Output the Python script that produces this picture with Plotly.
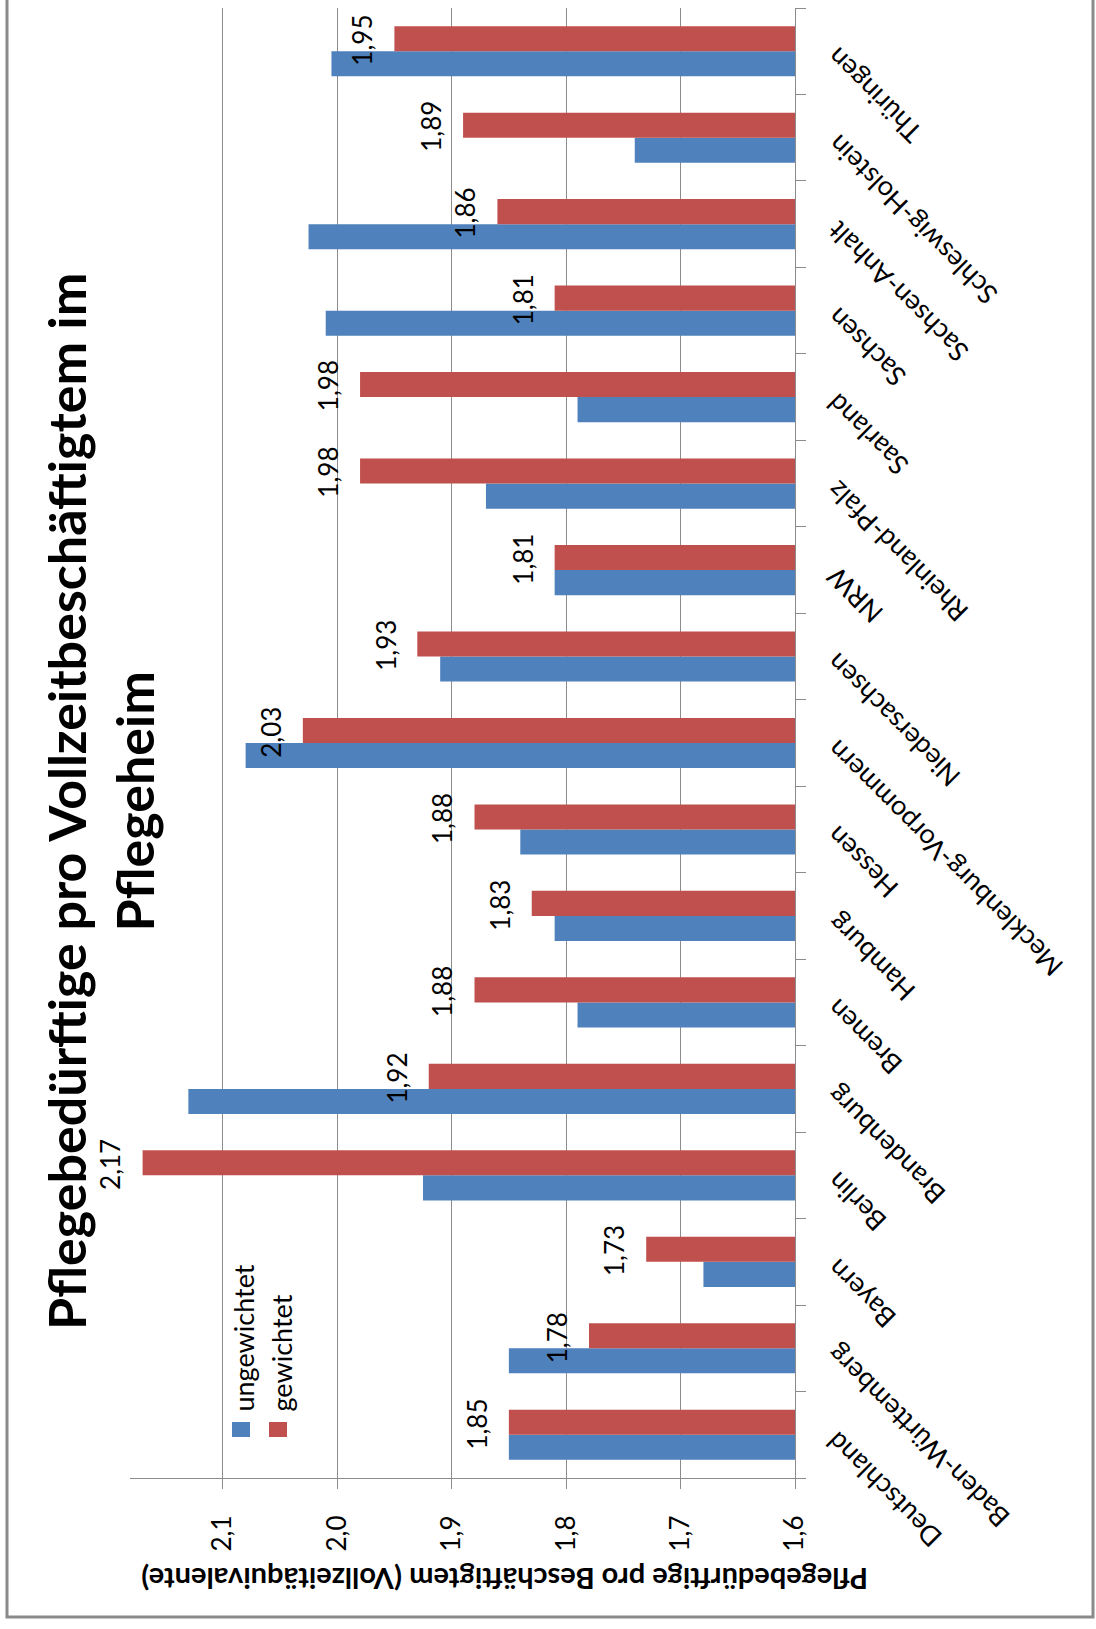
import plotly.graph_objects as go

categories = ["Deutschland", "Baden-Württemberg", "Bayern", "Berlin", "Brandenburg", "Bremen",
              "Hamburg", "Hessen", "Mecklenburg-Vorpommern", "Niedersachsen", "NRW",
              "Rheinland-Pfalz", "Saarland", "Sachsen", "Sachsen-Anhalt", "Schleswig-Holstein",
              "Thüringen"]
ungewichtet = [1.85, 1.85, 1.68, 1.925, 2.13, 1.79, 1.81, 1.84, 2.08, 1.91, 1.81, 1.87, 1.79,
               2.01, 2.025, 1.74, 2.005]
gewichtet = [1.85, 1.78, 1.73, 2.17, 1.92, 1.88, 1.83, 1.88, 2.03, 1.93, 1.81, 1.98, 1.98,
             1.81, 1.86, 1.89, 1.95]
gew_labels = ["1,85", "1,78", "1,73", "2,17", "1,92", "1,88", "1,83", "1,88", "2,03", "1,93",
              "1,81", "1,98", "1,98", "1,81", "1,86", "1,89", "1,95"]
x_ticks = [1.6, 1.7, 1.8, 1.9, 2.0, 2.1]
x_ticktext = ["1,6", "1,7", "1,8", "1,9", "2,0", "2,1"]

title_text = "Pflegebedürftige pro Vollzeitbeschäftigtem im<br>Pflegeheim"
axis_title = "Pflegebedürftige pro Beschäftigtem (Vollzeitäquivalente)"

W, H = 1096, 1629
L, R, T, B = 130, 795, 8, 1478
FONT = "Lato"
BLUE = "#4F81BD"
RED = "#C0504D"
GRID = "#8C8C8C"


def px(x):
    return (x - L) / (R - L)


def py(y):
    return (B - y) / (B - T)


fig = go.Figure()
fig.add_trace(go.Bar(y=categories, x=ungewichtet, orientation="h", name="ungewichtet",
                     marker=dict(color=BLUE, line=dict(width=0)), base=0))
fig.add_trace(go.Bar(y=categories, x=gewichtet, orientation="h", name="gewichtet",
                     marker=dict(color=RED, line=dict(width=0)), base=0))

annotations = []
for c, v, t in zip(categories, gewichtet, gew_labels):
    annotations.append(dict(x=v, y=c, xref="x", yref="y", text=t, showarrow=False,
                            textangle=-90, xanchor="right", yanchor="middle",
                            xshift=-14, yshift=11, font=dict(family=FONT, size=26, color="black")))

# category labels (rotated, ending at the axis)
for c in categories:
    annotations.append(dict(x=1, y=c, xref="paper", yref="y", text=c, showarrow=False,
                            textangle=-135, xanchor="left", yanchor="top",
                            xshift=22, yshift=12, font=dict(family=FONT, size=27, color="black")))

# title
annotations.append(dict(x=px(100), y=py(802), xref="paper", yref="paper", text=title_text,
                        showarrow=False, textangle=-90, xanchor="center", yanchor="middle",
                        font=dict(family=FONT, size=52, color="black", weight="bold")))
# axis title (upside down)
annotations.append(dict(x=px(505), y=py(1580), xref="paper", yref="paper", text=axis_title,
                        showarrow=False, textangle=180, xanchor="center", yanchor="middle",
                        font=dict(family=FONT, size=29, color="black", weight="bold")))
# legend texts
annotations.append(dict(x=px(243), y=py(1414), xref="paper", yref="paper", text="ungewichtet",
                        showarrow=False, textangle=-90, xanchor="center", yanchor="bottom",
                        font=dict(family=FONT, size=27, color="black")))
annotations.append(dict(x=px(281), y=py(1414), xref="paper", yref="paper", text="gewichtet",
                        showarrow=False, textangle=-90, xanchor="center", yanchor="bottom",
                        font=dict(family=FONT, size=27, color="black")))

shapes = [
    dict(type="rect", xref="paper", yref="paper", x0=px(232), x1=px(250), y0=py(1437), y1=py(1422),
         fillcolor=BLUE, line=dict(width=0)),
    dict(type="rect", xref="paper", yref="paper", x0=px(269), x1=px(287), y0=py(1437), y1=py(1422),
         fillcolor=RED, line=dict(width=0)),
    dict(type="rect", xref="paper", yref="paper", x0=px(7), x1=px(1093), y0=py(1617), y1=py(-10),
         fillcolor="rgba(0,0,0,0)", line=dict(color="#8A8A8A", width=3)),
]

fig.update_layout(
    width=W, height=H,
    margin=dict(l=L, r=W - R, t=T, b=H - B, pad=0, autoexpand=False),
    paper_bgcolor="white", plot_bgcolor="white",
    barmode="group", bargap=0.42, bargroupgap=0,
    showlegend=False,
    separators=",.",
    font=dict(family=FONT, size=26, color="black"),
    annotations=annotations,
    shapes=shapes,
    xaxis=dict(range=[2.181, 1.6], tickvals=x_ticks, ticktext=x_ticktext, tickangle=-90,
               showgrid=True, gridcolor=GRID, gridwidth=1, showline=True, linecolor=GRID,
               linewidth=1, ticks="outside", ticklen=10, tickcolor=GRID, zeroline=False,
               automargin=False,
               ticklabelstandoff=16, tickfont=dict(family=FONT, size=26, color="black")),
    yaxis=dict(type="category", categoryorder="array", categoryarray=categories,
               range=[-0.5, len(categories) - 0.5], side="right", showticklabels=False,
               showgrid=False, showline=True, linecolor=GRID, linewidth=1, ticks="outside",
               ticklen=10, tickcolor=GRID, tickson="boundaries", zeroline=False,
               automargin=False),
)

fig.write_html("out.html")
